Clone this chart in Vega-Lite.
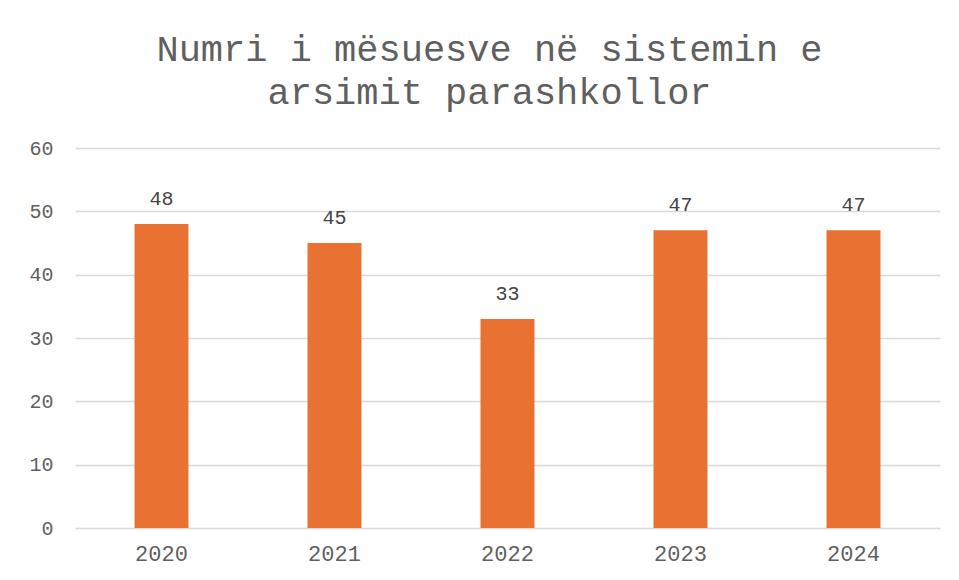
{
  "$schema": "https://vega.github.io/schema/vega-lite/v6.json",
  "autosize": {"type": "none"},
  "width": 865,
  "height": 380,
  "padding": {"left": 75, "top": 148, "right": 19, "bottom": 52},
  "background": "white",
  "title": {
    "text": ["Numri i mësuesve në sistemin e", "arsimit parashkollor"],
    "font": "Liberation Mono",
    "fontSize": 37,
    "fontWeight": "normal",
    "color": "#5f5f5f",
    "lineHeight": 43,
    "anchor": "middle",
    "frame": "group",
    "dx": -18,
    "offset": 26
  },
  "data": {
    "values": [
      {"year": "2020", "value": 48},
      {"year": "2021", "value": 45},
      {"year": "2022", "value": 33},
      {"year": "2023", "value": 47},
      {"year": "2024", "value": 47}
    ]
  },
  "encoding": {
    "x": {
      "field": "year",
      "type": "ordinal",
      "scale": {"paddingInner": 0.688, "paddingOuter": 0.344},
      "axis": {
        "title": null,
        "labelAngle": 0,
        "labelFont": "Liberation Mono",
        "labelFontSize": 22,
        "labelColor": "#5f5f5f",
        "labelPadding": 15,
        "ticks": false,
        "domain": false
      }
    },
    "y": {
      "field": "value",
      "type": "quantitative",
      "scale": {"domain": [0, 60]},
      "axis": {
        "title": null,
        "values": [0, 10, 20, 30, 40, 50, 60],
        "labelFont": "Liberation Mono",
        "labelFontSize": 20,
        "labelColor": "#5f5f5f",
        "labelPadding": 22,
        "ticks": false,
        "domain": false,
        "gridColor": "#d9d9d9",
        "gridWidth": 1.5
      }
    }
  },
  "layer": [
    {"mark": {"type": "bar", "color": "#E97132"}},
    {
      "mark": {"type": "text", "dy": -25, "font": "Liberation Mono", "fontSize": 20, "color": "#454545"},
      "encoding": {"text": {"field": "value", "type": "quantitative"}}
    }
  ],
  "config": {"view": {"stroke": null}}
}
